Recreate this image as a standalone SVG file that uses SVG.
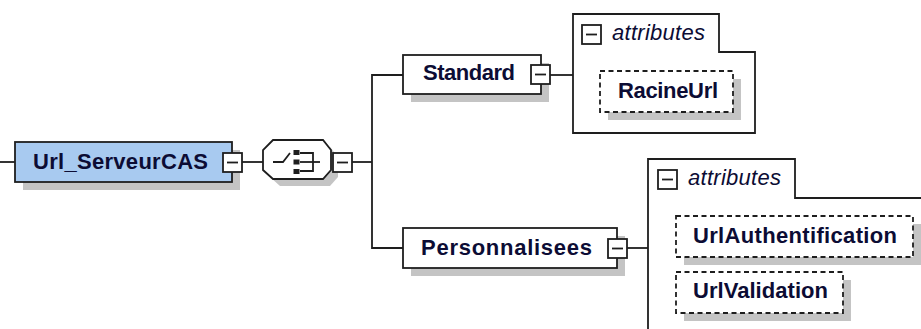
<svg xmlns="http://www.w3.org/2000/svg" width="921" height="329" viewBox="0 0 921 329">
<style>
.bg{fill:#ffffff}
.shadow{fill:#c4c4c4;stroke:none}
.box{fill:#ffffff;stroke:#1e1e1e;stroke-width:1.8}
.root{fill:#a8caf0;stroke:#1e1e1e;stroke-width:1.8}
.dash{fill:#ffffff;stroke:#1e1e1e;stroke-width:1.8;stroke-dasharray:5,3.5}
.attr{fill:#ffffff;stroke:#1e1e1e;stroke-width:1.8}
.ln{fill:none;stroke:#1e1e1e;stroke-width:1.8}
.lbl{font-family:"Liberation Sans",Arial,sans-serif;font-weight:bold;font-size:22px;fill:#0c0c34}
.it{font-family:"Liberation Sans",Arial,sans-serif;font-style:italic;font-size:22px;fill:#0c0c34}
</style>
<defs>
<g id="minus">
<rect class="box" x="0" y="0" width="19" height="19"/>
<line class="ln" x1="4" y1="9.5" x2="15" y2="9.5"/>
</g>
</defs>
<rect class="bg" x="0" y="0" width="921" height="329"/>

<g id="connectors">
<line class="ln" x1="0" y1="162" x2="15" y2="162"/>
<line class="ln" x1="242" y1="162" x2="263" y2="162"/>
<line class="ln" x1="352" y1="162" x2="372" y2="162"/>
<polyline class="ln" points="403,75 372,75 372,248 403,248"/>
<line class="ln" x1="550" y1="75" x2="573" y2="75"/>
<line class="ln" x1="627" y1="248" x2="648" y2="248"/>
</g>

<g id="node-url-serveurcas">
<rect class="shadow" x="23" y="150" width="217" height="40"/>
<rect class="root" x="15" y="142" width="217" height="40"/>
<text class="lbl" x="33" y="169" textLength="175" lengthAdjust="spacing">Url_ServeurCAS</text>
<use href="#minus" x="223" y="153"/>
</g>

<g id="node-sequence">
<polygon class="shadow" points="280,147 330,147 338,157 338,177 330,186 280,186 270,177 270,157"/>
<polygon class="box" points="273,140 323,140 331,150 331,170 323,179 273,179 263,170 263,150"/>
<polyline class="ln" points="273,162 283,162 290,153"/>
<rect x="293.5" y="150" width="6" height="5" fill="#1e1e1e"/>
<rect x="293.5" y="159.5" width="6" height="5" fill="#1e1e1e"/>
<rect x="293.5" y="169" width="6" height="5" fill="#1e1e1e"/>
<polyline class="ln" points="300,153 313,153 313,171 300,171"/>
<line class="ln" x1="300" y1="162" x2="320" y2="162"/>
<use href="#minus" x="333" y="153"/>
</g>

<g id="node-standard">
<rect class="shadow" x="411" y="63" width="138" height="39"/>
<rect class="box" x="403" y="55" width="138" height="39"/>
<text class="lbl" x="423" y="80" textLength="92" lengthAdjust="spacing">Standard</text>
<use href="#minus" x="531" y="65"/>
</g>

<g id="node-standard-attributes">
<path class="attr" d="M573,14 H719 V52 H755 V133 H573 Z"/>
<use href="#minus" x="582" y="25"/>
<text class="it" x="612" y="40" textLength="93" lengthAdjust="spacing">attributes</text>
</g>

<g id="node-racineurl">
<rect class="shadow" x="608" y="79" width="133" height="41"/>
<rect class="dash" x="600" y="71" width="133" height="41"/>
<text class="lbl" x="618" y="98" textLength="100" lengthAdjust="spacing">RacineUrl</text>
</g>

<g id="node-personnalisees">
<rect class="shadow" x="411" y="236" width="214" height="40"/>
<rect class="box" x="403" y="228" width="214" height="40"/>
<text class="lbl" x="421" y="255" textLength="171" lengthAdjust="spacing">Personnalisees</text>
<use href="#minus" x="608" y="239"/>
</g>

<g id="node-personnalisees-attributes">
<path class="attr" d="M648,335 V159 H795 V198 H930"/>
<use href="#minus" x="658" y="170"/>
<text class="it" x="688" y="185" textLength="93" lengthAdjust="spacing">attributes</text>
</g>

<g id="node-urlauthentification">
<rect class="shadow" x="684" y="224" width="237" height="41"/>
<rect class="dash" x="676" y="216" width="237" height="41"/>
<text class="lbl" x="693" y="243" textLength="204" lengthAdjust="spacing">UrlAuthentification</text>
</g>

<g id="node-urlvalidation">
<rect class="shadow" x="684" y="280" width="167" height="41"/>
<rect class="dash" x="676" y="272" width="167" height="41"/>
<text class="lbl" x="693" y="298" textLength="135" lengthAdjust="spacing">UrlValidation</text>
</g>
</svg>
